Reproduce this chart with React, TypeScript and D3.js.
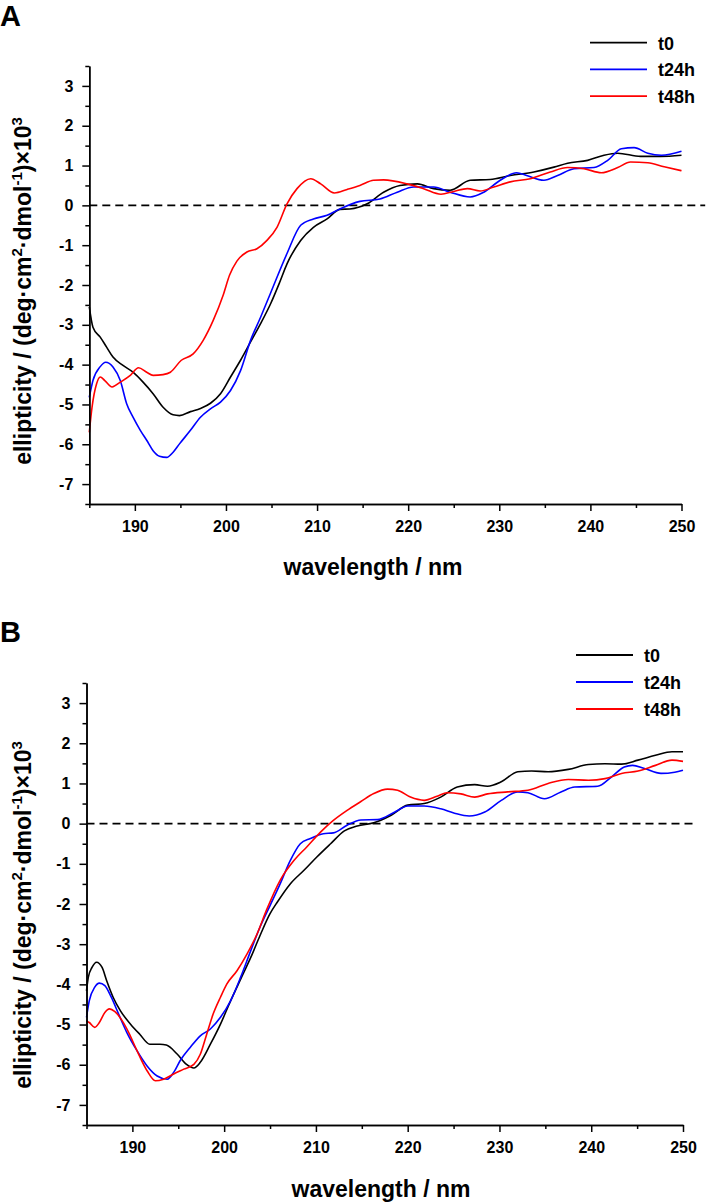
import { useEffect, useRef } from 'react'
import * as d3 from 'd3'

type Pt = [number, number]

// panel A readings: [wavelength nm, ellipticity x10^3]
const aT0: Pt[] = [
  [185, -2.55], [185.4, -3.06], [186.2, -3.31], [186.9, -3.56], [187.6, -3.81], [188.7, -4.02],
  [189.8, -4.19], [190.9, -4.44], [192.0, -4.73], [193.1, -5.07], [194.2, -5.26], [194.9, -5.28],
  [196.1, -5.18], [197.2, -5.1], [198.3, -4.97], [199.4, -4.73], [200.5, -4.31], [201.6, -3.89],
  [202.7, -3.43], [203.8, -2.97], [204.9, -2.47], [205.9, -1.93], [206.7, -1.47], [208.2, -0.88],
  [209.6, -0.55], [211.1, -0.34], [212.5, -0.1], [213.6, -0.09], [215.5, 0.04], [217.3, 0.33],
  [219.1, 0.5], [221.0, 0.54], [222.8, 0.42], [224.6, 0.38], [226.8, 0.63], [229.0, 0.65],
  [231.2, 0.75], [233.8, 0.84], [236.0, 0.96], [237.5, 1.06], [239.7, 1.13], [241.5, 1.26],
  [243.0, 1.31], [245.5, 1.23], [247.7, 1.23], [250, 1.26],
]
const aT24: Pt[] = [
  [185, -4.82], [185.4, -4.4], [186.2, -4.05], [186.8, -3.94], [187.6, -4.06], [188.4, -4.4],
  [189.1, -4.98], [189.8, -5.32], [190.6, -5.65], [191.3, -5.9], [192.0, -6.16], [192.7, -6.3],
  [193.5, -6.33], [194.2, -6.2], [194.9, -5.99], [196.1, -5.65], [197.2, -5.32], [198.3, -5.11],
  [199.4, -4.94], [200.5, -4.65], [201.6, -4.15], [202.7, -3.39], [203.8, -2.81], [204.9, -2.2],
  [206.7, -1.21], [208.2, -0.5], [209.6, -0.34], [211.1, -0.25], [212.5, -0.09], [214.7, 0.1],
  [216.9, 0.16], [218.8, 0.33], [220.6, 0.46], [222.8, 0.46], [224.6, 0.33], [226.8, 0.21],
  [228.3, 0.33], [230.1, 0.63], [231.9, 0.82], [233.0, 0.75], [234.9, 0.63], [236.4, 0.75],
  [238.2, 0.92], [240.4, 0.95], [241.9, 1.13], [243.4, 1.42], [244.8, 1.45], [246.3, 1.31],
  [247.8, 1.26], [250, 1.36],
]
const aT48: Pt[] = [
  [185, -5.7], [185.3, -5.07], [185.8, -4.48], [186.2, -4.31], [186.7, -4.4], [187.5, -4.56],
  [188.4, -4.44], [189.5, -4.27], [190.4, -4.08], [191.3, -4.19], [192.0, -4.27], [193.1, -4.25],
  [193.9, -4.19], [195.1, -3.89], [196.4, -3.73], [197.5, -3.39], [198.6, -2.89], [199.7, -2.25],
  [200.4, -1.75], [201.2, -1.4], [202.3, -1.17], [203.4, -1.09], [204.5, -0.88], [205.6, -0.55],
  [206.7, 0.04], [207.8, 0.42], [209.3, 0.67], [210.4, 0.54], [211.9, 0.31], [213.3, 0.4],
  [214.7, 0.5], [216.2, 0.63], [217.3, 0.64], [219.9, 0.54], [221.7, 0.42], [223.6, 0.28],
  [225.0, 0.35], [226.5, 0.42], [227.9, 0.36], [229.4, 0.46], [231.2, 0.59], [233.4, 0.67],
  [235.6, 0.84], [237.5, 0.95], [239.3, 0.92], [241.2, 0.82], [243.0, 0.95], [244.4, 1.09],
  [246.3, 1.07], [248.1, 0.97], [250, 0.87],
]

// panel B readings
const bT0: Pt[] = [
  [185, -4.16], [185.2, -3.82], [185.6, -3.58], [186.1, -3.45], [186.7, -3.58], [187.2, -3.91],
  [187.9, -4.32], [188.7, -4.66], [189.8, -4.99], [190.8, -5.24], [191.9, -5.49], [193.0, -5.49],
  [193.7, -5.51], [194.9, -5.74], [195.9, -5.99], [196.7, -6.08], [197.4, -5.94], [198.5, -5.49],
  [199.6, -4.99], [200.7, -4.41], [201.8, -3.87], [202.9, -3.33], [203.9, -2.79], [205.0, -2.24],
  [205.8, -1.95], [207.2, -1.5], [208.7, -1.16], [210.1, -0.83], [211.6, -0.5], [213.1, -0.18],
  [214.5, -0.06], [216.3, 0.02], [218.2, 0.21], [220.0, 0.46], [221.8, 0.5], [223.6, 0.66],
  [225.4, 0.91], [227.3, 0.97], [228.7, 0.93], [230.2, 1.04], [232.0, 1.29], [233.5, 1.31],
  [235.3, 1.29], [237.5, 1.35], [239.7, 1.47], [241.5, 1.49], [243.3, 1.48], [245.1, 1.58],
  [247.0, 1.7], [248.8, 1.79], [250, 1.79],
]
const bT24: Pt[] = [
  [185, -4.82], [185.3, -4.41], [185.9, -4.07], [186.4, -3.97], [187.0, -4.03], [187.7, -4.32],
  [188.5, -4.74], [189.4, -5.2], [190.5, -5.65], [191.6, -6.03], [192.7, -6.28], [193.8, -6.36],
  [194.5, -6.19], [195.2, -5.9], [196.3, -5.57], [197.4, -5.28], [198.5, -5.11], [199.6, -4.82],
  [200.7, -4.41], [201.8, -3.82], [202.9, -3.16], [203.9, -2.58], [205.0, -2.04], [206.1, -1.5],
  [207.2, -0.92], [208.3, -0.5], [209.4, -0.37], [210.8, -0.25], [211.9, -0.23], [213.4, -0.04],
  [214.9, 0.09], [216.7, 0.1], [218.6, 0.29], [220.0, 0.44], [221.8, 0.44], [223.6, 0.37],
  [225.1, 0.26], [226.7, 0.19], [228.4, 0.29], [230.2, 0.58], [232.0, 0.79], [233.1, 0.77],
  [234.9, 0.62], [236.7, 0.79], [238.2, 0.91], [240.7, 0.93], [242.2, 1.16], [243.6, 1.41],
  [244.5, 1.45], [245.8, 1.37], [247.6, 1.25], [249.1, 1.28], [250, 1.33],
]
const bT48: Pt[] = [
  [185, -4.91], [185.3, -4.95], [185.9, -5.07], [186.4, -4.95], [187.0, -4.7], [187.5, -4.61],
  [188.1, -4.68], [188.9, -4.91], [189.6, -5.2], [190.5, -5.65], [191.6, -6.15], [192.5, -6.4],
  [193.4, -6.36], [194.5, -6.23], [195.6, -6.11], [196.7, -5.99], [197.4, -5.74], [198.1, -5.24],
  [198.8, -4.74], [199.6, -4.32], [200.3, -3.99], [201.4, -3.66], [202.5, -3.24], [203.6, -2.74],
  [204.6, -2.16], [206.1, -1.41], [207.6, -0.92], [209.0, -0.58], [210.5, -0.21], [211.9, 0.08],
  [213.4, 0.33], [214.9, 0.55], [216.3, 0.75], [217.8, 0.86], [218.9, 0.83], [220.3, 0.66],
  [221.8, 0.58], [223.2, 0.68], [224.3, 0.77], [225.8, 0.74], [227.3, 0.66], [228.7, 0.74],
  [230.9, 0.79], [233.1, 0.83], [235.3, 1.0], [237.5, 1.1], [239.7, 1.08], [241.5, 1.12],
  [243.3, 1.25], [245.1, 1.31], [247.0, 1.45], [248.8, 1.58], [250, 1.55],
]

const seriesNames = ['t0', 't24h', 't48h']
const seriesColors = ['#000000', '#0000ff', '#ff0000']
const xTicks = [190, 200, 210, 220, 230, 240, 250]
const xMinor = [185, 195, 205, 215, 225, 235, 245]
const yTicks = [-7, -6, -5, -4, -3, -2, -1, 0, 1, 2, 3]
const yMinor = [-7.5, -6.5, -5.5, -4.5, -3.5, -2.5, -1.5, -0.5, 0.5, 1.5, 2.5, 3.5]
const xDomain: [number, number] = [185, 250]
const yDomain: [number, number] = [-7.5, 3.5]

const FONT = '"Liberation Sans", Arial, sans-serif'

interface Panel {
  letter: string
  letterY: number
  series: Pt[][]
  left: number
  right: number
  top: number
  bottom: number
  zeroEnd: number
  legendX: number
  legendY: number
  legendStep: number
  xTitleX: number
  xTitleY: number
  yTitleX: number
  yTitleY: number
}

const panels: Panel[] = [
  {
    letter: 'A', letterY: 26, series: [aT0, aT24, aT48],
    left: 89.3, right: 681.5, top: 66, bottom: 504, zeroEnd: 252.6,
    legendX: 590, legendY: 42.7, legendStep: 26.7,
    xTitleX: 373, xTitleY: 575, yTitleX: 31, yTitleY: 291,
  },
  {
    letter: 'B', letterY: 642, series: [bT0, bT24, bT48],
    left: 86.5, right: 683, top: 683, bottom: 1125, zeroEnd: 251.3,
    legendX: 576, legendY: 655, legendStep: 27,
    xTitleX: 381, xTitleY: 1197, yTitleX: 31, yTitleY: 915,
  },
]

function drawPanel(svg: d3.Selection<SVGSVGElement, unknown, null, undefined>, p: Panel) {
  const x = d3.scaleLinear().domain(xDomain).range([p.left, p.right])
  const y = d3.scaleLinear().domain(yDomain).range([p.bottom, p.top])
  const g = svg.append('g')

  // zero reference
  g.append('line')
    .attr('x1', x(xDomain[0])).attr('x2', x(p.zeroEnd))
    .attr('y1', y(0)).attr('y2', y(0))
    .attr('stroke', '#000').attr('stroke-width', 1.8)
    .attr('stroke-dasharray', '8 5')

  const line = d3.line<Pt>()
    .x(d => x(d[0]))
    .y(d => y(d[1]))
    .curve(d3.curveMonotoneX)

  p.series.forEach((s, i) => {
    g.append('path')
      .attr('d', line(s))
      .attr('fill', 'none')
      .attr('stroke', seriesColors[i])
      .attr('stroke-width', 1.6)
  })

  // axes
  const styleAxis = (sel: d3.Selection<SVGGElement, unknown, null, undefined>) => {
    sel.selectAll('path, line').attr('stroke', '#000').attr('stroke-width', 1.5)
    sel.selectAll('text')
      .attr('fill', '#000')
      .style('font-family', FONT)
      .style('font-size', '16px')
      .style('font-weight', 'bold')
  }

  const xMinorAxis = g.append('g').attr('transform', `translate(0,${p.bottom})`)
    .call(d3.axisBottom(x).tickValues(xMinor).tickSize(4).tickSizeOuter(0).tickFormat(() => ''))
  styleAxis(xMinorAxis)
  const xAxis = g.append('g').attr('transform', `translate(0,${p.bottom})`)
    .call(d3.axisBottom(x).tickValues(xTicks).tickSize(7).tickPadding(10).tickSizeOuter(0).tickFormat(d3.format('d')))
  styleAxis(xAxis)

  const yMinorAxis = g.append('g').attr('transform', `translate(${p.left},0)`)
    .call(d3.axisLeft(y).tickValues(yMinor).tickSize(4).tickSizeOuter(0).tickFormat(() => ''))
  styleAxis(yMinorAxis)
  const yAxis = g.append('g').attr('transform', `translate(${p.left},0)`)
    .call(d3.axisLeft(y).tickValues(yTicks).tickSize(7).tickPadding(9).tickSizeOuter(0).tickFormat(d3.format('d')))
  styleAxis(yAxis)
  yAxis.selectAll('text').text(d => (d as number) < 0 ? `-${Math.abs(d as number)}` : String(d))

  // titles
  g.append('text')
    .attr('x', p.xTitleX).attr('y', p.xTitleY)
    .attr('text-anchor', 'middle')
    .style('font-family', FONT).style('font-size', '23px').style('font-weight', 'bold')
    .text('wavelength / nm')

  const yt = g.append('text')
    .attr('transform', `translate(${p.yTitleX},${p.yTitleY}) rotate(-90)`)
    .attr('text-anchor', 'middle')
    .style('font-family', FONT).style('font-size', '23px').style('font-weight', 'bold')
  const parts: [string, boolean][] = [
    ['ellipticity / (deg·cm', false], ['2', true], ['·dmol', false], ['-1', true], [')×10', false], ['3', true],
  ]
  let raised = false
  parts.forEach(([t, sup]) => {
    let dy = 0
    if (sup && !raised) dy = -9
    if (!sup && raised) dy = 9
    raised = sup
    yt.append('tspan')
      .attr('dy', dy)
      .style('font-size', sup ? '15px' : '23px')
      .text(t)
  })

  // panel letter
  g.append('text')
    .attr('x', 0).attr('y', p.letterY)
    .style('font-family', FONT).style('font-size', '29px').style('font-weight', 'bold')
    .text(p.letter)

  // legend
  seriesNames.forEach((name, i) => {
    const ly = p.legendY + i * p.legendStep
    g.append('line')
      .attr('x1', p.legendX).attr('x2', p.legendX + 57)
      .attr('y1', ly).attr('y2', ly)
      .attr('stroke', seriesColors[i]).attr('stroke-width', 1.8)
    g.append('text')
      .attr('x', p.legendX + 68).attr('y', ly + 7)
      .style('font-family', FONT).style('font-size', '18px').style('font-weight', 'bold')
      .text(name)
  })
}

export default function App() {
  const svgRef = useRef<SVGSVGElement>(null)

  useEffect(() => {
    if (!svgRef.current) return
    const svg = d3.select(svgRef.current)
    svg.selectAll('*').remove()
    panels.forEach(p => drawPanel(svg, p))
  }, [])

  return (
    <svg
      ref={svgRef}
      width={708}
      height={1204}
      style={{ position: 'absolute', left: 0, top: 0, background: '#fff' }}
    />
  )
}
